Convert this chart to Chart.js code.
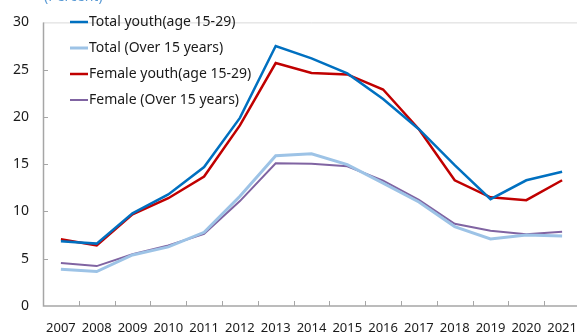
<!DOCTYPE html>
<html>
<head>
<meta charset="utf-8">
<script src="https://cdn.jsdelivr.net/npm/chart.js@4/dist/chart.umd.min.js"></script>
<style>
    html, body { margin: 0; padding: 0; background: #fff; overflow: hidden; }
    #wrap { position: relative; width: 600px; height: 335px; }
</style>
</head>
<body>
<div id="wrap"><canvas id="chart" width="600" height="335"></canvas></div>
<script>
// Dados (percentual)
const years = ['2007', '2008', '2009', '2010', '2011', '2012', '2013', '2014', '2015', '2016', '2017', '2018', '2019', '2020', '2021'];
const totalYouth = [6.85, 6.6, 9.8, 11.8, 14.7, 19.9, 27.5, 26.2, 24.6, 21.9, 18.7, 14.9, 11.3, 13.3, 14.2];
const totalOver15 = [3.9, 3.65, 5.4, 6.25, 7.8, 11.6, 15.9, 16.1, 14.95, 13.0, 11.0, 8.4, 7.1, 7.5, 7.4];
const femaleYouth = [7.05, 6.4, 9.7, 11.4, 13.7, 19.1, 25.7, 24.65, 24.5, 22.9, 18.7, 13.3, 11.5, 11.2, 13.3];
const femaleOver15 = [4.55, 4.22, 5.47, 6.4, 7.62, 11.1, 15.1, 15.05, 14.78, 13.26, 11.23, 8.7, 7.95, 7.6, 7.85];
const yTicks = [0, 5, 10, 15, 20, 25, 30];

const FONT = '"Noto Sans", "Open Sans", sans-serif';

// Legenda, moldura e marcas de escala desenhadas à mão
const decorPlugin = {
    id: 'decor',
    beforeDatasetsDraw(chart) {
        const { ctx, chartArea, scales } = chart;
        const x = scales.x, y = scales.y;
        ctx.save();

        // borda superior
        ctx.strokeStyle = '#d9d9d9';
        ctx.lineWidth = 1;
        ctx.beginPath();
        ctx.moveTo(chartArea.left, chartArea.top + 0.5);
        ctx.lineTo(chartArea.right, chartArea.top + 0.5);
        ctx.stroke();

        // eixos
        ctx.strokeStyle = '#a6a6a6';
        ctx.lineWidth = 1.5;
        ctx.beginPath();
        ctx.moveTo(chartArea.left + 0.5, chartArea.top);
        ctx.lineTo(chartArea.left + 0.5, chartArea.bottom);
        ctx.lineTo(chartArea.right, chartArea.bottom);
        ctx.stroke();

        // marcas internas
        ctx.lineWidth = 1;
        ctx.beginPath();
        for (let i = 1; i < years.length; i++) {
            const px = Math.round((x.getPixelForValue(i - 1) + x.getPixelForValue(i)) / 2) + 0.5;
            ctx.moveTo(px, chartArea.bottom);
            ctx.lineTo(px, chartArea.bottom - 5);
        }
        yTicks.forEach(v => {
            if (v === 0 || v === 30) return;
            const py = Math.round(y.getPixelForValue(v)) + 0.5;
            ctx.moveTo(chartArea.left, py);
            ctx.lineTo(chartArea.left + 5, py);
        });
        ctx.stroke();

        // "(Percent)"
        ctx.fillStyle = '#5b9bd5';
        ctx.font = '14px ' + FONT;
        ctx.textBaseline = 'middle';
        ctx.textAlign = 'left';
        ctx.fillText('(Percent)', 44, -3);

        // legenda
        const rows = [22, 48, 74, 100];
        chart.data.datasets.forEach((ds, i) => {
            const ly = rows[i];
            ctx.strokeStyle = ds.borderColor;
            ctx.lineWidth = ds.borderWidth;
            ctx.beginPath();
            ctx.moveTo(70, ly);
            ctx.lineTo(88, ly);
            ctx.stroke();
            ctx.fillStyle = '#1a1a1a';
            ctx.fillText(ds.label, 89, ly);
        });

        ctx.restore();
    }
};

const ctx = document.getElementById('chart').getContext('2d');
new Chart(ctx, {
    type: 'line',
    data: {
        labels: years,
        datasets: [
            { label: 'Total youth(age 15-29)', data: totalYouth, borderColor: '#0070c0', borderWidth: 2.5 },
            { label: 'Total (Over 15 years)', data: totalOver15, borderColor: '#9dc3e6', borderWidth: 3 },
            { label: 'Female youth(age 15-29)', data: femaleYouth, borderColor: '#c00000', borderWidth: 2.5 },
            { label: 'Female (Over 15 years)', data: femaleOver15, borderColor: '#8064a2', borderWidth: 2 }
        ].map(d => Object.assign(d, { fill: false, tension: 0, pointRadius: 0, backgroundColor: d.borderColor }))
    },
    plugins: [decorPlugin],
    options: {
        responsive: false,
        animation: false,
        layout: { padding: { top: 10, right: 20, left: 0, bottom: 0 } },
        plugins: {
            legend: { display: false },
            tooltip: { enabled: false }
        },
        scales: {
            x: {
                offset: true,
                grid: { display: false, drawTicks: false },
                border: { display: false },
                ticks: {
                    color: '#1a1a1a',
                    font: { family: FONT, size: 13 },
                    padding: 14,
                    maxRotation: 0,
                    autoSkip: false
                },
                afterFit(scale) { scale.height = 29; }
            },
            y: {
                min: 0,
                max: 30,
                afterBuildTicks(scale) { scale.ticks = yTicks.map(v => ({ value: v })); },
                grid: { display: false, drawTicks: false },
                border: { display: false },
                ticks: {
                    color: '#1a1a1a',
                    font: { family: FONT, size: 14 },
                    padding: 14
                },
                afterFit(scale) { scale.width = 43; }
            }
        }
    }
});
</script>
</body>
</html>
